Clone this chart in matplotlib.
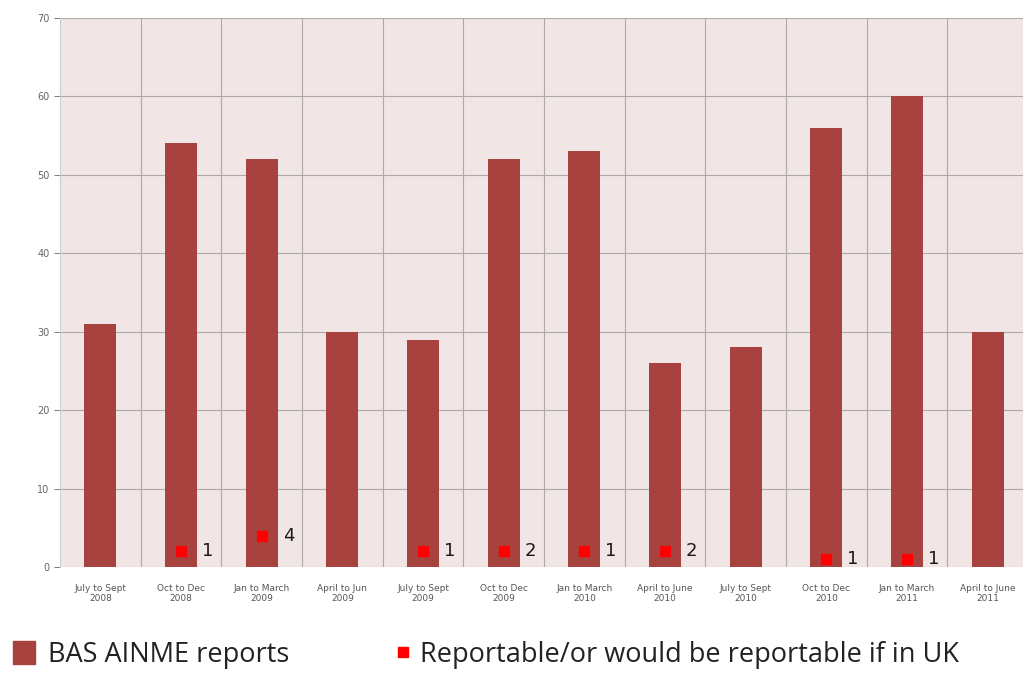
import matplotlib
matplotlib.use("Agg")
import matplotlib.pyplot as plt
from matplotlib.patches import Patch
from matplotlib.lines import Line2D

# quarters and report counts
quarters = ["July to Sept\n2008", "Oct to Dec\n2008", "Jan to March\n2009", "April to Jun\n2009",
            "July to Sept\n2009", "Oct to Dec\n2009", "Jan to March\n2010", "April to June\n2010",
            "July to Sept\n2010", "Oct to Dec\n2010", "Jan to March\n2011", "April to June\n2011"]
ainme = [31, 54, 52, 30, 29, 52, 53, 26, 28, 56, 60, 30]

# reportable markers: category index, plotted height, label
rep_idx = [1, 2, 4, 5, 6, 7, 9, 10]
rep_y = [2, 4, 2, 2, 2, 2, 1, 1]
rep_lbl = ["1", "4", "1", "2", "1", "2", "1", "1"]

bar_col = "#a8423e"
mark_col = "#ff0000"

fig = plt.figure(figsize=(10.23, 6.75), dpi=100)
ax = fig.add_axes([60 / 1023, 108 / 675, 968 / 1023, 549 / 675])
ax.set_facecolor("#f2e5e5")

x = list(range(len(quarters)))
ax.bar(x, ainme, width=0.4, color=bar_col, zorder=3)
ax.plot(rep_idx, rep_y, ls="none", marker="s", ms=7, color=mark_col, zorder=4)
for i, y, t in zip(rep_idx, rep_y, rep_lbl):
    ax.text(i + 0.26, y, t, fontsize=13, va="center", ha="left", color="#1a1a1a", zorder=5)

ax.set_xlim(-0.5, len(quarters) - 0.5)
ax.set_ylim(0, 70)
ax.set_yticks(range(0, 71, 10))
ax.set_xticks(x)
ax.set_xticklabels(quarters, fontsize=6.5, color="#555555")
ax.set_xticks([i + 0.5 for i in x[:-1]], minor=True)
ax.tick_params(axis="x", which="both", length=0, pad=12)
ax.tick_params(axis="y", labelsize=7, colors="#666666", length=4, width=0.6)
ax.grid(axis="y", color="#aaaaaa", lw=0.8, zorder=1)
ax.grid(axis="x", which="minor", color="#aaaaaa", lw=0.8, zorder=1)
ax.grid(axis="x", which="major", visible=False)
for s in ["top", "right", "bottom"]:
    ax.spines[s].set_visible(False)
ax.spines["left"].set_color("#cccccc")

leg_font = {"family": "Open Sans", "size": 19.5}
l1 = fig.legend(handles=[Patch(color=bar_col, label="BAS AINME reports")],
                loc="center left", bbox_to_anchor=(-0.011, 0.03), frameon=False,
                handlelength=0.8, handleheight=0.9, handletextpad=0.5, prop=leg_font)
l2 = fig.legend(handles=[Line2D([], [], ls="none", marker="s", ms=6.5, color=mark_col,
                                label="Reportable/or would be reportable if in UK")],
                loc="center left", bbox_to_anchor=(0.362, 0.03), frameon=False,
                handlelength=0.6, handletextpad=0.35, prop=leg_font)
for lg in (l1, l2):
    for t in lg.get_texts():
        t.set_color("#222222")

fig.savefig("out.png", dpi=100)
